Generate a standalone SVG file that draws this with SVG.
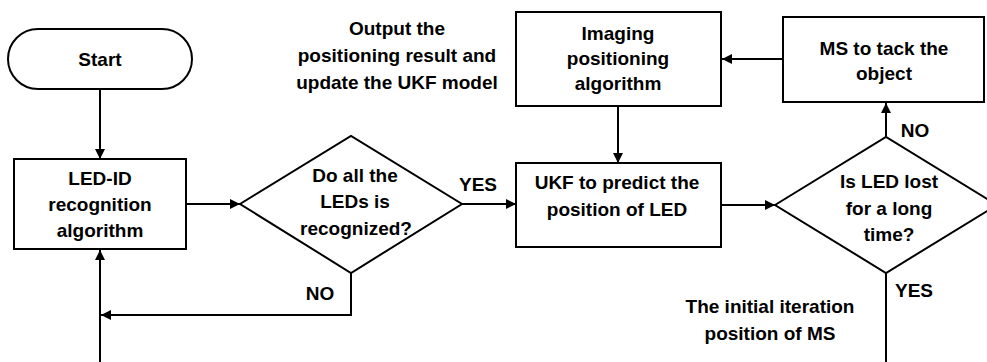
<svg xmlns="http://www.w3.org/2000/svg" width="987" height="362" viewBox="0 0 987 362">
<defs>
<style>
.shape{fill:#fff;stroke:#000;stroke-width:2}
.line{fill:none;stroke:#000;stroke-width:2}
text{font-family:"Liberation Sans",Arial,sans-serif;font-weight:bold;font-size:19px;fill:#000;text-anchor:middle}
</style>
<marker id="arr" viewBox="0 0 10 10" refX="10" refY="5" markerWidth="10" markerHeight="10" markerUnits="userSpaceOnUse" orient="auto">
<path d="M0,0 L10,5 L0,10 Z" fill="#000"/>
</marker>
</defs>
<rect width="987" height="362" fill="#fff"/>
<g id="connectors">
<line class="line" x1="100" y1="89" x2="100" y2="159" marker-end="url(#arr)"/>
<line class="line" x1="186" y1="204" x2="240" y2="204" marker-end="url(#arr)"/>
<line class="line" x1="462" y1="204" x2="516" y2="204" marker-end="url(#arr)"/>
<polyline class="line" points="351,273 351,315 101,315" marker-end="url(#arr)"/>
<line class="line" x1="100" y1="362" x2="100" y2="250" marker-end="url(#arr)"/>
<line class="line" x1="618" y1="106" x2="618" y2="163" marker-end="url(#arr)"/>
<line class="line" x1="783" y1="59" x2="722" y2="59" marker-end="url(#arr)"/>
<line class="line" x1="721" y1="205" x2="775" y2="205" marker-end="url(#arr)"/>
<line class="line" x1="886" y1="137" x2="886" y2="103" marker-end="url(#arr)"/>
<line class="line" x1="886" y1="273" x2="886" y2="362"/>
<text x="478" y="191">YES</text>
<text x="320" y="300">NO</text>
<text x="915" y="137">NO</text>
<text x="914" y="297">YES</text>
</g>
<g id="start">
<rect class="shape" x="8" y="29" width="184" height="60" rx="30" ry="30"/>
<text x="100" y="66">Start</text>
</g>
<g id="ledid">
<rect class="shape" x="14" y="159" width="172" height="90"/>
<text x="100" y="185">LED-ID</text>
<text x="100" y="211">recognition</text>
<text x="100" y="237">algorithm</text>
</g>
<g id="decision1">
<polygon class="shape" points="240,204 351,136 462,204 351,273"/>
<text x="355" y="182">Do all the</text>
<text x="355" y="208">LEDs is</text>
<text x="356" y="235">recognized?</text>
</g>
<g id="ukf">
<rect class="shape" x="516" y="163" width="205" height="84"/>
<text x="617" y="189">UKF to predict the</text>
<text x="617" y="216">position of LED</text>
</g>
<g id="output">
<text x="397" y="35">Output the</text>
<text x="397" y="62">positioning result and</text>
<text x="397" y="89">update the UKF model</text>
</g>
<g id="imaging">
<rect class="shape" x="516" y="12" width="205" height="94"/>
<text x="618" y="40">Imaging</text>
<text x="618" y="65">positioning</text>
<text x="618" y="90">algorithm</text>
</g>
<g id="ms">
<rect class="shape" x="783" y="17" width="201" height="85"/>
<text x="884" y="55">MS to tack the</text>
<text x="884" y="80">object</text>
</g>
<g id="decision2">
<polygon class="shape" points="775,205 886,137 997,205 886,273"/>
<text x="889" y="188">Is LED lost</text>
<text x="889" y="215">for a long</text>
<text x="889" y="241">time?</text>
</g>
<g id="initial">
<text x="770" y="313">The initial iteration</text>
<text x="770" y="340">position of MS</text>
</g>
</svg>
